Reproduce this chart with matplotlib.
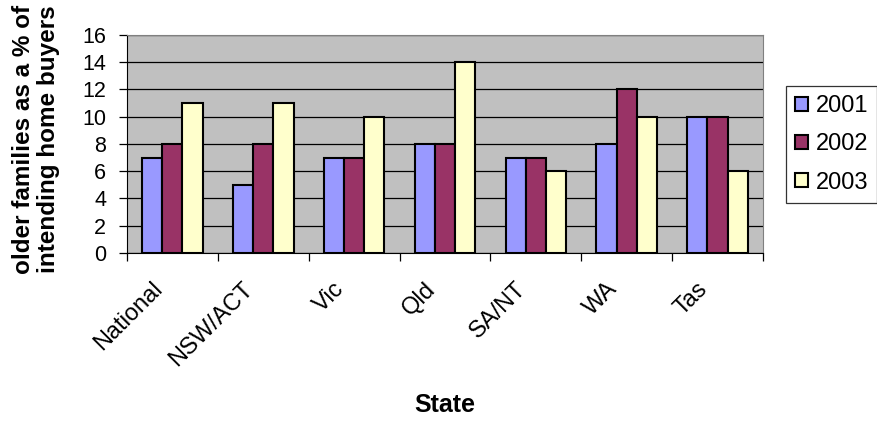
import numpy as np
import matplotlib.pyplot as plt
from matplotlib.ticker import FixedLocator

states = ["National", "NSW/ACT", "Vic", "Qld", "SA/NT", "WA", "Tas"]
years = ["2001", "2002", "2003"]
v2001 = [7, 5, 7, 8, 7, 8, 10]
v2002 = [8, 8, 7, 8, 7, 12, 10]
v2003 = [11, 11, 10, 14, 6, 10, 6]
colors = ["#9999ff", "#993366", "#ffffcc"]

plt.rcParams['font.family'] = ['Liberation Sans', 'DejaVu Sans']

fig = plt.figure(figsize=(8.78, 4.23), dpi=100)
ax = fig.add_axes([0.1446, 0.4019, 0.7244, 0.5154])
ax.set_facecolor("#c0c0c0")

ind = np.arange(len(states))
w = 0.222
for i, vals in enumerate([v2001, v2002, v2003]):
    ax.bar(ind + (i - 1) * w, vals, w, color=colors[i], edgecolor="black",
           linewidth=1.5, label=years[i], zorder=3)

ax.set_xlim(-0.5, len(states) - 0.5)
ax.set_ylim(0, 16)
ax.set_yticks(np.arange(0, 17, 2))
ax.yaxis.grid(True, color="black", linewidth=0.9, zorder=0)
ax.set_axisbelow(True)

ax.xaxis.set_major_locator(FixedLocator(np.arange(-0.5, len(states), 1)))
ax.set_xticklabels([])
ax.xaxis.set_minor_locator(FixedLocator(ind - 0.23))
ax.set_xticklabels(states, minor=True, rotation=45, ha="right", va="top",
                   rotation_mode="anchor")
ax.tick_params(axis="x", which="minor", length=0, pad=18, labelsize=17)
ax.tick_params(axis="x", which="major", length=6, width=0.9, direction="out")
ax.tick_params(axis="y", length=6, width=0.9, direction="out", labelsize=15.5, pad=9)

for s in ["top", "right"]:
    ax.spines[s].set_color("#808080")
for s in ["left", "bottom"]:
    ax.spines[s].set_color("black")

ax.set_ylabel("older families as a % of\nintending home buyers", fontsize=17.5,
              fontweight="bold", linespacing=1.1, va="center")
ax.yaxis.set_label_coords(-0.143, 0.52)
ax.set_xlabel("State", fontsize=18, fontweight="bold", va="center")
ax.xaxis.set_label_coords(0.5, -0.697)

leg = fig.legend(loc="upper left", bbox_to_anchor=(786 / 878, 1 - 86 / 423),
                 fontsize=17, frameon=True, fancybox=False, borderpad=0.4,
                 handlelength=0.55, handleheight=0.55, handletextpad=0.3,
                 labelspacing=0.68, borderaxespad=0)
leg.get_frame().set_edgecolor("black")
leg.get_frame().set_linewidth(0.9)

fig.savefig("out.png", dpi=100)
